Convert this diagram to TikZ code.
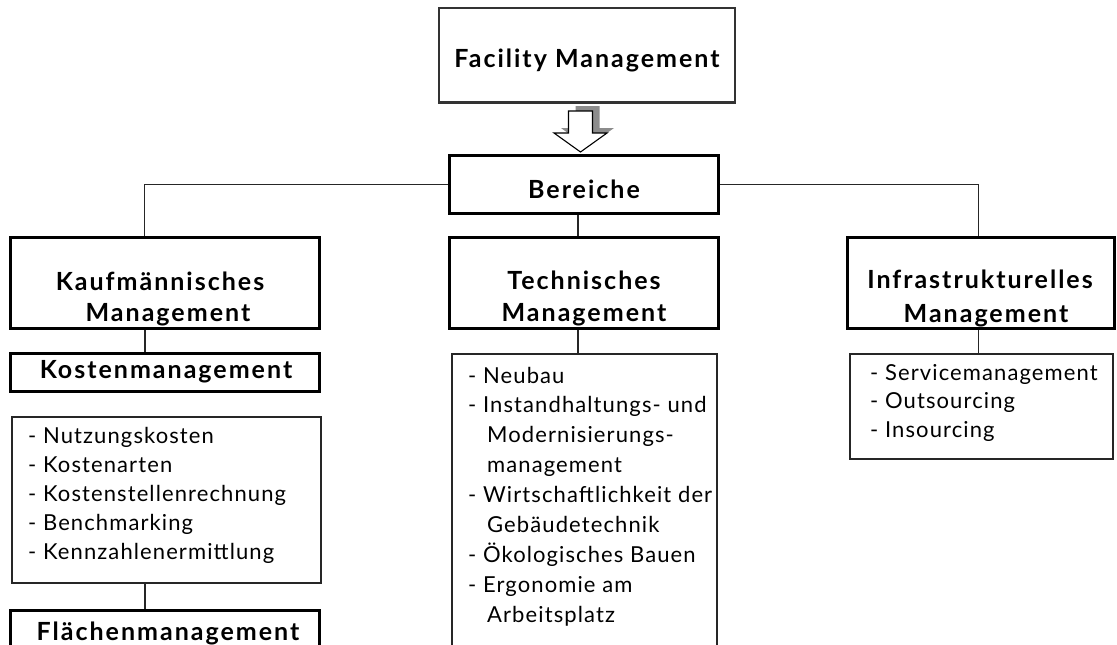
\documentclass[tikz,border=0pt]{standalone}
\usepackage{fontspec}
\setmainfont{Lato}
\usetikzlibrary{calc}
\newfontfamily\itemfont[LetterSpace=5]{Lato}
\newfontfamily\headfont[LetterSpace=8]{Lato Bold}
\tikzset{
  thickbox/.style={draw=black, line width=3pt, fill=white, inner sep=0pt},
  thinbox/.style={draw=black!85, line width=1.3pt, fill=white, inner sep=0pt},
  conn/.style={draw=black!85, line width=1.3pt},
  head/.style={font=\headfont\fontsize{25}{32}\selectfont, inner sep=0pt, anchor=base},
  itm/.style={font=\itemfont\fontsize{22}{29}\selectfont, inner sep=0pt, anchor=base west},
}
\begin{document}
\begin{tikzpicture}[x=1pt,y=-1pt]
\useasboundingbox (0,0) rectangle (1117,645);
\clip (0,0) rectangle (1117,645);
% boxes
\node[thinbox, draw=black!80, line width=1.5pt, minimum width=296pt, minimum height=94pt] (fm) at (587,55) {};
\node[thickbox, minimum width=266pt, minimum height=55pt] (ber) at (584,184.5) {};
\node[thickbox, minimum width=306pt, minimum height=88pt] (kfm) at (165,283) {};
\node[thickbox, minimum width=306pt, minimum height=35pt] (kost) at (165,372.5) {};
\node[thinbox, minimum width=309pt, minimum height=166pt] (klist) at (166.5,500) {};
\node[thickbox, minimum width=306pt, minimum height=60pt] (fla) at (165,642) {};
\node[thickbox, minimum width=266pt, minimum height=88pt] (tec) at (584,283) {};
\node[thinbox, minimum width=265pt, minimum height=320pt] (tlist) at (584.5,514) {};
\node[thickbox, minimum width=264pt, minimum height=88pt] (inf) at (981,283) {};
\node[thinbox, minimum width=263pt, minimum height=105pt] (ilist) at (981.5,406.5) {};
% connectors
\coordinate (kfmtop) at ($(kfm.north)+(-20.5,0)$);
\coordinate (inftop) at ($(inf.north)+(-2.5,0)$);
\draw[conn] (ber.west) -| (kfmtop);
\draw[conn] (ber.east) -| (inftop);
\draw[conn] ($(ber.south)+(-6,0)$) -- ($(tec.north)+(-6,0)$);
\draw[conn] ($(kfm.south)+(-20,0)$) -- ($(kost.north)+(-20,0)$);
\draw[conn] ($(klist.south)+(-21.5,0)$) -- ($(fla.north)+(-20,0)$);
\draw[conn] ($(tec.south)+(-6,0)$) -- ($(tlist.north)+(-6.5,0)$);
\draw[conn] ($(inf.south)+(-2.5,0)$) -- ($(ilist.north)+(-3,0)$);
% redraw boxes over connector ends
\draw[thickbox] (ber.north west) rectangle (ber.south east);
\draw[thickbox] (kfm.north west) rectangle (kfm.south east);
\draw[thickbox] (kost.north west) rectangle (kost.south east);
\draw[thickbox] (tec.north west) rectangle (tec.south east);
\draw[thickbox] (inf.north west) rectangle (inf.south east);
\draw[thickbox] (fla.north west) rectangle (fla.south east);
% block arrow with shadow
\coordinate (tip) at (580.5,152);
\fill[black!45] ($(tip)+(-12+7,-41-5)$) -- ($(tip)+(12+7,-41-5)$) -- ($(tip)+(12+7,-19-5)$) -- ($(tip)+(26.5+7,-19-5)$) -- ($(tip)+(7,-5)$) -- ($(tip)+(-26.5+7,-19-5)$) -- ($(tip)+(-12+7,-19-5)$) -- cycle;
\filldraw[fill=white, draw=black, line width=1.1pt, line join=miter] ($(tip)+(-12,-41)$) -- ($(tip)+(12,-41)$) -- ($(tip)+(12,-19)$) -- ($(tip)+(26.5,-19)$) -- (tip) -- ($(tip)+(-26.5,-19)$) -- ($(tip)+(-12,-19)$) -- cycle;
\draw[draw=black!80, line width=1.5pt] (fm.south west) -- (fm.south east);
% texts
\node[head] (tfm) at (587,67) {Facility Management};
\node[head] (tber) at (584,198) {Bereiche};
\node[head] (tkfm1) at (160,290) {Kaufmännisches};
\node[head] (tkfm2) at (168,321) {Management};
\node[head] (tkost) at (166,378) {Kostenmanagement};
\node[head] (tfla) at (168,640) {Flächenmanagement};
\node[head] (ttec1) at (584,289) {Technisches};
\node[head] (ttec2) at (584,321) {Management};
\node[head] (tinf1) at (980,288) {Infrastrukturelles};
\node[head] (tinf2) at (986,322) {Management};
% lists
\node[itm] (k1) at (28,443) {- Nutzungskosten};
\node[itm] (k2) at (28,472) {- Kostenarten};
\node[itm] (k3) at (28,501) {- Kostenstellenrechnung};
\node[itm] (k4) at (28,530) {- Benchmarking};
\node[itm] (k5) at (28,559) {- Kennzahlenermittlung};
\node[itm] (t1) at (468,383) {- Neubau};
\node[itm] (t2) at (468,412.9) {- Instandhaltungs- und};
\node[itm] (t3) at (487,442.7) {Modernisierungs-};
\node[itm] (t4) at (487,472.6) {management};
\node[itm] (t5) at (468,502.4) {- Wirtschaftlichkeit der};
\node[itm] (t6) at (487,532.3) {Gebäudetechnik};
\node[itm] (t7) at (468,562.1) {- Ökologisches Bauen};
\node[itm] (t8) at (468,592) {- Ergonomie am};
\node[itm] (t9) at (487,622) {Arbeitsplatz};
\node[itm] (i1) at (870,380) {- Servicemanagement};
\node[itm] (i2) at (870,408.5) {- Outsourcing};
\node[itm] (i3) at (870,437) {- Insourcing};
\end{tikzpicture}
\end{document}
